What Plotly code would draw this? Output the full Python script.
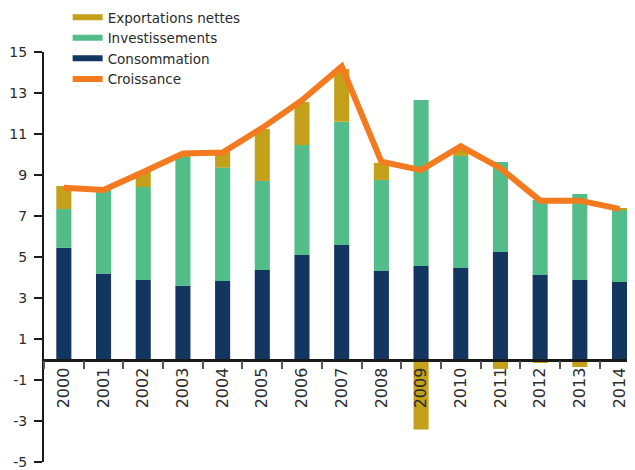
import plotly.graph_objects as go

years = [str(y) for y in range(2000, 2015)]
consommation = [5.45, 4.19, 3.88, 3.60, 3.83, 4.37, 5.10, 5.59, 4.32, 4.56, 4.46, 5.24, 4.12, 3.88, 3.78]
investissements = [1.89, 4.05, 4.53, 6.29, 5.53, 4.34, 5.36, 6.01, 4.44, 8.10, 5.47, 4.39, 3.66, 4.19, 3.56]
exportations = [1.12, 0.03, 0.75, 0.05, 0.78, 2.53, 2.10, 2.57, 0.83, -3.42, 0.30, -0.46, -0.17, -0.37, 0.02]
croissance = [8.38, 8.27, 9.15, 10.05, 10.10, 11.30, 12.65, 14.30, 9.65, 9.24, 10.40, 9.33, 7.75, 7.75, 7.35]
y_ticks = [15, 13, 11, 9, 7, 5, 3, 1, -1, -3, -5]
y_labels = ["15", "13", "11", "9", "7", "5", "3", "1", "-1", "-3", "-5"]

C_EXP = "#C4A11A"
C_INV = "#52BD89"
C_CON = "#12365F"
C_CRO = "#F47A20"
FONT = "DejaVu Sans"
TXT = "#2b2b2b"

fig = go.Figure()
fig.add_bar(x=years, y=consommation, marker_color=C_CON, showlegend=False, marker_line_width=0)
fig.add_bar(x=years, y=investissements, marker_color=C_INV, showlegend=False, marker_line_width=0)
fig.add_bar(x=years, y=exportations, marker_color=C_EXP, showlegend=False, marker_line_width=0)

for name, col in [("Exportations nettes", C_EXP), ("Investissements", C_INV), ("Consommation", C_CON)]:
    fig.add_scatter(x=[None], y=[None], mode="lines", name=name, line=dict(color=col, width=6))

fig.add_scatter(x=years, y=croissance, mode="lines", name="Croissance",
                line=dict(color=C_CRO, width=6))

# page has an 8px body margin: figure is sized/offset so the plot area matches the reference
fig.update_layout(
    width=627, height=462,
    margin=dict(l=36, r=0, t=44, b=8, autoexpand=False),
    barmode="relative", bargap=0.62,
    plot_bgcolor="white", paper_bgcolor="white",
    font=dict(family=FONT, color=TXT, size=15),
    legend=dict(x=0.04, y=1.122, xanchor="left", yanchor="top", traceorder="normal",
                font=dict(size=13.5, family=FONT, color=TXT), bgcolor="rgba(0,0,0,0)",
                itemwidth=30, tracegroupgap=0),
    xaxis=dict(type="category", range=[-0.5, 14.39], anchor="free", position=0.25,
               showline=True, linecolor="#1a1a1a", linewidth=2.5,
               ticks="outside", tickson="boundaries", ticklen=8, tickcolor="#555", tickwidth=1.5,
               tickangle=-90, tickfont=dict(size=16, family=FONT, color=TXT),
               showgrid=False, zeroline=False, automargin=False),
    yaxis=dict(range=[-5, 15], tickvals=y_ticks, ticktext=y_labels,
               showline=True, linecolor="#1a1a1a", linewidth=2,
               ticks="outside", ticklen=8, tickcolor="#1a1a1a", tickwidth=1.5,
               tickfont=dict(size=14, family=FONT, color=TXT), ticklabelstandoff=4,
               showgrid=False, zeroline=False, automargin=False),
)

fig.write_html("out.html")
